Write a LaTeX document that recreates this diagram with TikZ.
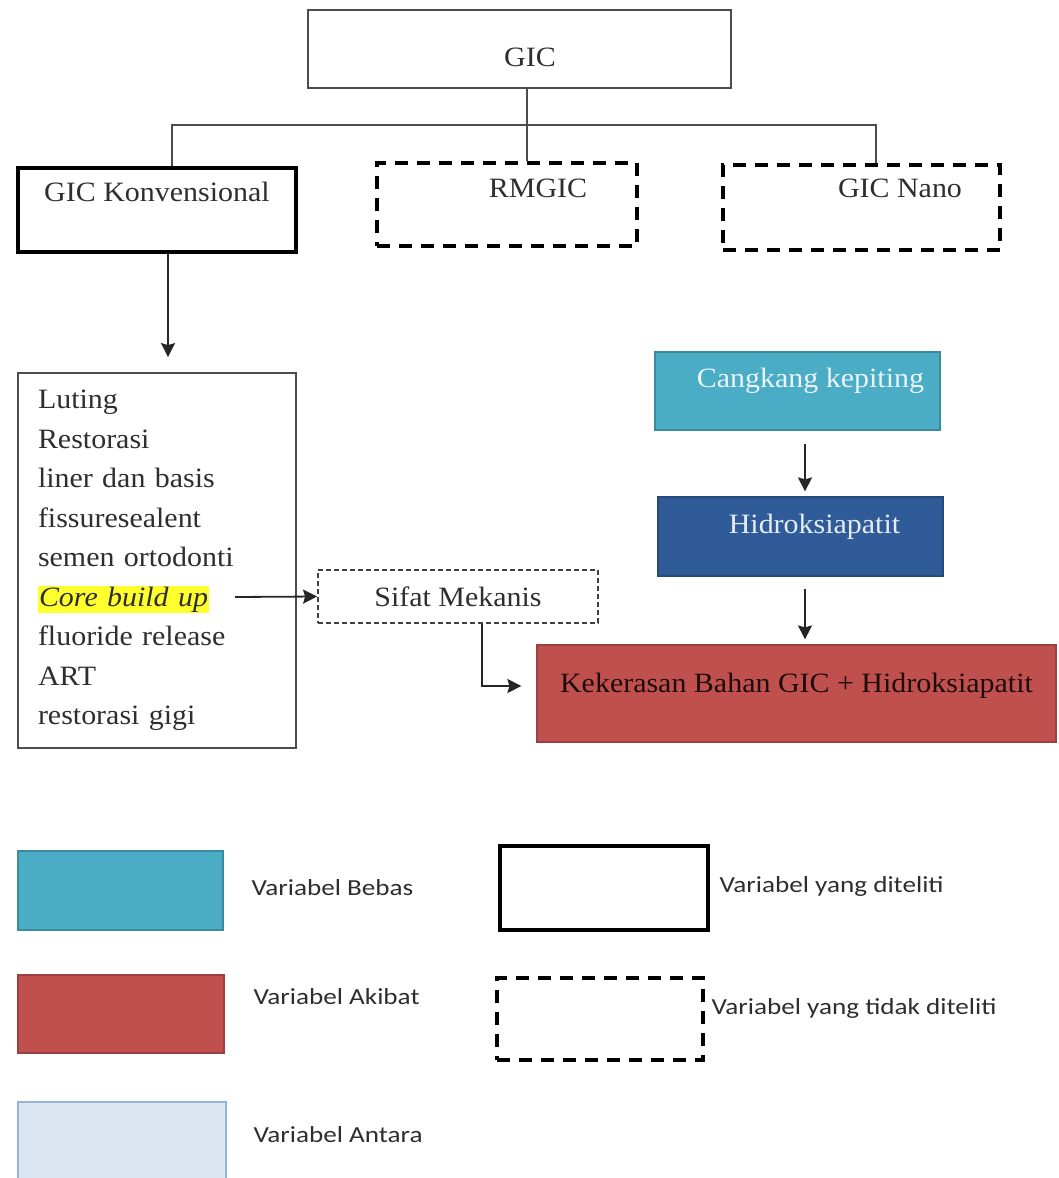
\documentclass[tikz,border=0pt]{standalone}
\usepackage{fontspec}
\setmainfont{Liberation Serif}[FakeStretch=1.07]
\newfontfamily\legendfont{Carlito}[FakeStretch=1.18]
\usepackage{xcolor}
\usetikzlibrary{arrows.meta, positioning}

\definecolor{aqua}{HTML}{4BACC6}
\definecolor{navyblue}{HTML}{2F5C98}
\definecolor{brickred}{HTML}{C0504D}
\definecolor{paleblue}{HTML}{DCE6F2}
\definecolor{paleedge}{HTML}{95B3D7}
\definecolor{textgray}{HTML}{2E2E2E}
\definecolor{marker}{HTML}{FFFF2E}

\begin{document}
\begin{tikzpicture}[
    x=1pt, y=-1pt,
    arrow/.style={-{Stealth[length=14pt, width=14pt, inset=2pt]}, line width=1.8pt, draw=black!85}, % Arrow style
    link/.style={line width=1.8pt, draw=black!70}, % Tree lines
    plainbox/.style={draw=black!70, line width=1.8pt, text=textgray},
    studied/.style={draw=black, line width=4pt, text=textgray},
    notstudied/.style={draw=black, line width=4pt, dash pattern=on 13pt off 9pt, text=textgray},
    minorbox/.style={draw=black!75, line width=1.8pt, dash pattern=on 5pt off 3pt, text=textgray},
    fillbox/.style={draw=#1!80!black, line width=1.2pt, fill=#1},
    legendtext/.style={anchor=west, text=textgray, font=\legendfont\fontsize{23}{27}\selectfont},
    font=\fontsize{28}{34}\selectfont
]
    \useasboundingbox (0,0) rectangle (1058,1178);

    % Top of the tree
    \node (gic) [plainbox, minimum width=423pt, minimum height=78pt, text height=35pt] at (519.5,49) {\hspace*{21pt}GIC};

    % Kinds of GIC
    \node (konv) [studied, minimum width=278pt, minimum height=84pt, text depth=36pt] at (157,210) {GIC Konvensional};
    \node (rmgic) [notstudied, minimum width=260pt, minimum height=83pt, text depth=33pt] at (507,204.5) {\hspace*{62pt}RMGIC};
    \node (nano) [notstudied, minimum width=277pt, minimum height=85pt, text depth=39pt] at (861.5,207.5) {\hspace*{77pt}GIC Nano};

    % Uses of conventional GIC
    \node (uses) [plainbox, minimum width=278pt, minimum height=375pt, text width=238pt, align=left,
        font=\fontsize{28}{39.5}\selectfont] at (157,560.5)
        {Luting\\ Restorasi\\ liner dan basis\\ fissuresealent\\ semen ortodonti\\
         {\setlength{\fboxsep}{1pt}\colorbox{marker}{\textit{Core build up}}}\\
         fluoride release\\ ART\\ restorasi gigi};
    \coordinate (coreend) at (235,597);

    \node (sifat) [minorbox, minimum width=280pt, minimum height=53pt] at (458,596.5) {Sifat Mekanis};

    % Right column
    \node (crab) [fillbox=aqua, text=white!88!aqua, minimum width=285pt, minimum height=78pt, text depth=26pt] at (797.5,391) {\hspace*{26pt}Cangkang kepiting};
    \node (hidro) [fillbox=navyblue, text=white!88!navyblue, minimum width=285pt, minimum height=79pt, text depth=26pt] at (800.5,536.5) {\hspace*{28pt}Hidroksiapatit};
    \node (hard) [fillbox=brickred, text=black!85!brickred, minimum width=519pt, minimum height=97pt, text depth=22pt] at (796.5,693.5) {Kekerasan Bahan GIC + Hidroksiapatit};

    % Tree lines
    \coordinate (busl) at (172,125);
    \coordinate (busr) at (876,125);
    \coordinate (gicdrop) at ([xshift=7.5pt]gic.south);
    \draw[link] (gicdrop) -- (gicdrop |- rmgic.north);
    \draw[link] (busl |- konv.north) -- (busl) -- (busr) -- (busr |- nano.north);

    % Arrows
    \coordinate (konvdrop) at ([xshift=11pt]konv.south);
    \draw[arrow, shorten >=15pt] (konvdrop) -- (konvdrop |- uses.north);
    \draw[arrow] (coreend) -- (sifat.west);
    \coordinate (sifatdrop) at ([xshift=24pt]sifat.south);
    \coordinate (hardin) at ([shift={(-15,-7.5)}]hard.west);
    \draw[arrow] (sifatdrop) |- (hardin);
    \coordinate (crabdrop) at ([shift={(7.5,13)}]crab.south);
    \draw[arrow, shorten >=5pt] (crabdrop) -- (crabdrop |- hidro.north);
    \coordinate (hidrodrop) at ([shift={(4.5,12)}]hidro.south);
    \draw[arrow, shorten >=5pt] (hidrodrop) -- (hidrodrop |- hard.north);

    % Legend
    \node (kbebas) [fillbox=aqua, minimum width=205pt, minimum height=79pt] at (120.5,890.5) {};
    \node (kakibat) [fillbox=brickred, minimum width=206pt, minimum height=78pt] at (121,1014) {};
    \node (kantara) [draw=paleedge, line width=1.5pt, fill=paleblue, minimum width=208pt, minimum height=80pt] at (122,1142) {};
    \node (kstudied) [studied, minimum width=208pt, minimum height=84pt] at (604,888) {};
    \node (knot) [notstudied, minimum width=206pt, minimum height=82pt] at (600,1019) {};

    \node (lbebas) [legendtext] at (248,888) {Variabel Bebas};
    \node (lakibat) [legendtext] at (250,997) {Variabel Akibat};
    \node (lantara) [legendtext] at (250,1135) {Variabel Antara};
    \node (lstudied) [legendtext] at (716,886) {Variabel yang diteliti};
    \node (lnot) [legendtext] at (708,1008) {Variabel yang tidak diteliti};
\end{tikzpicture}
\end{document}
